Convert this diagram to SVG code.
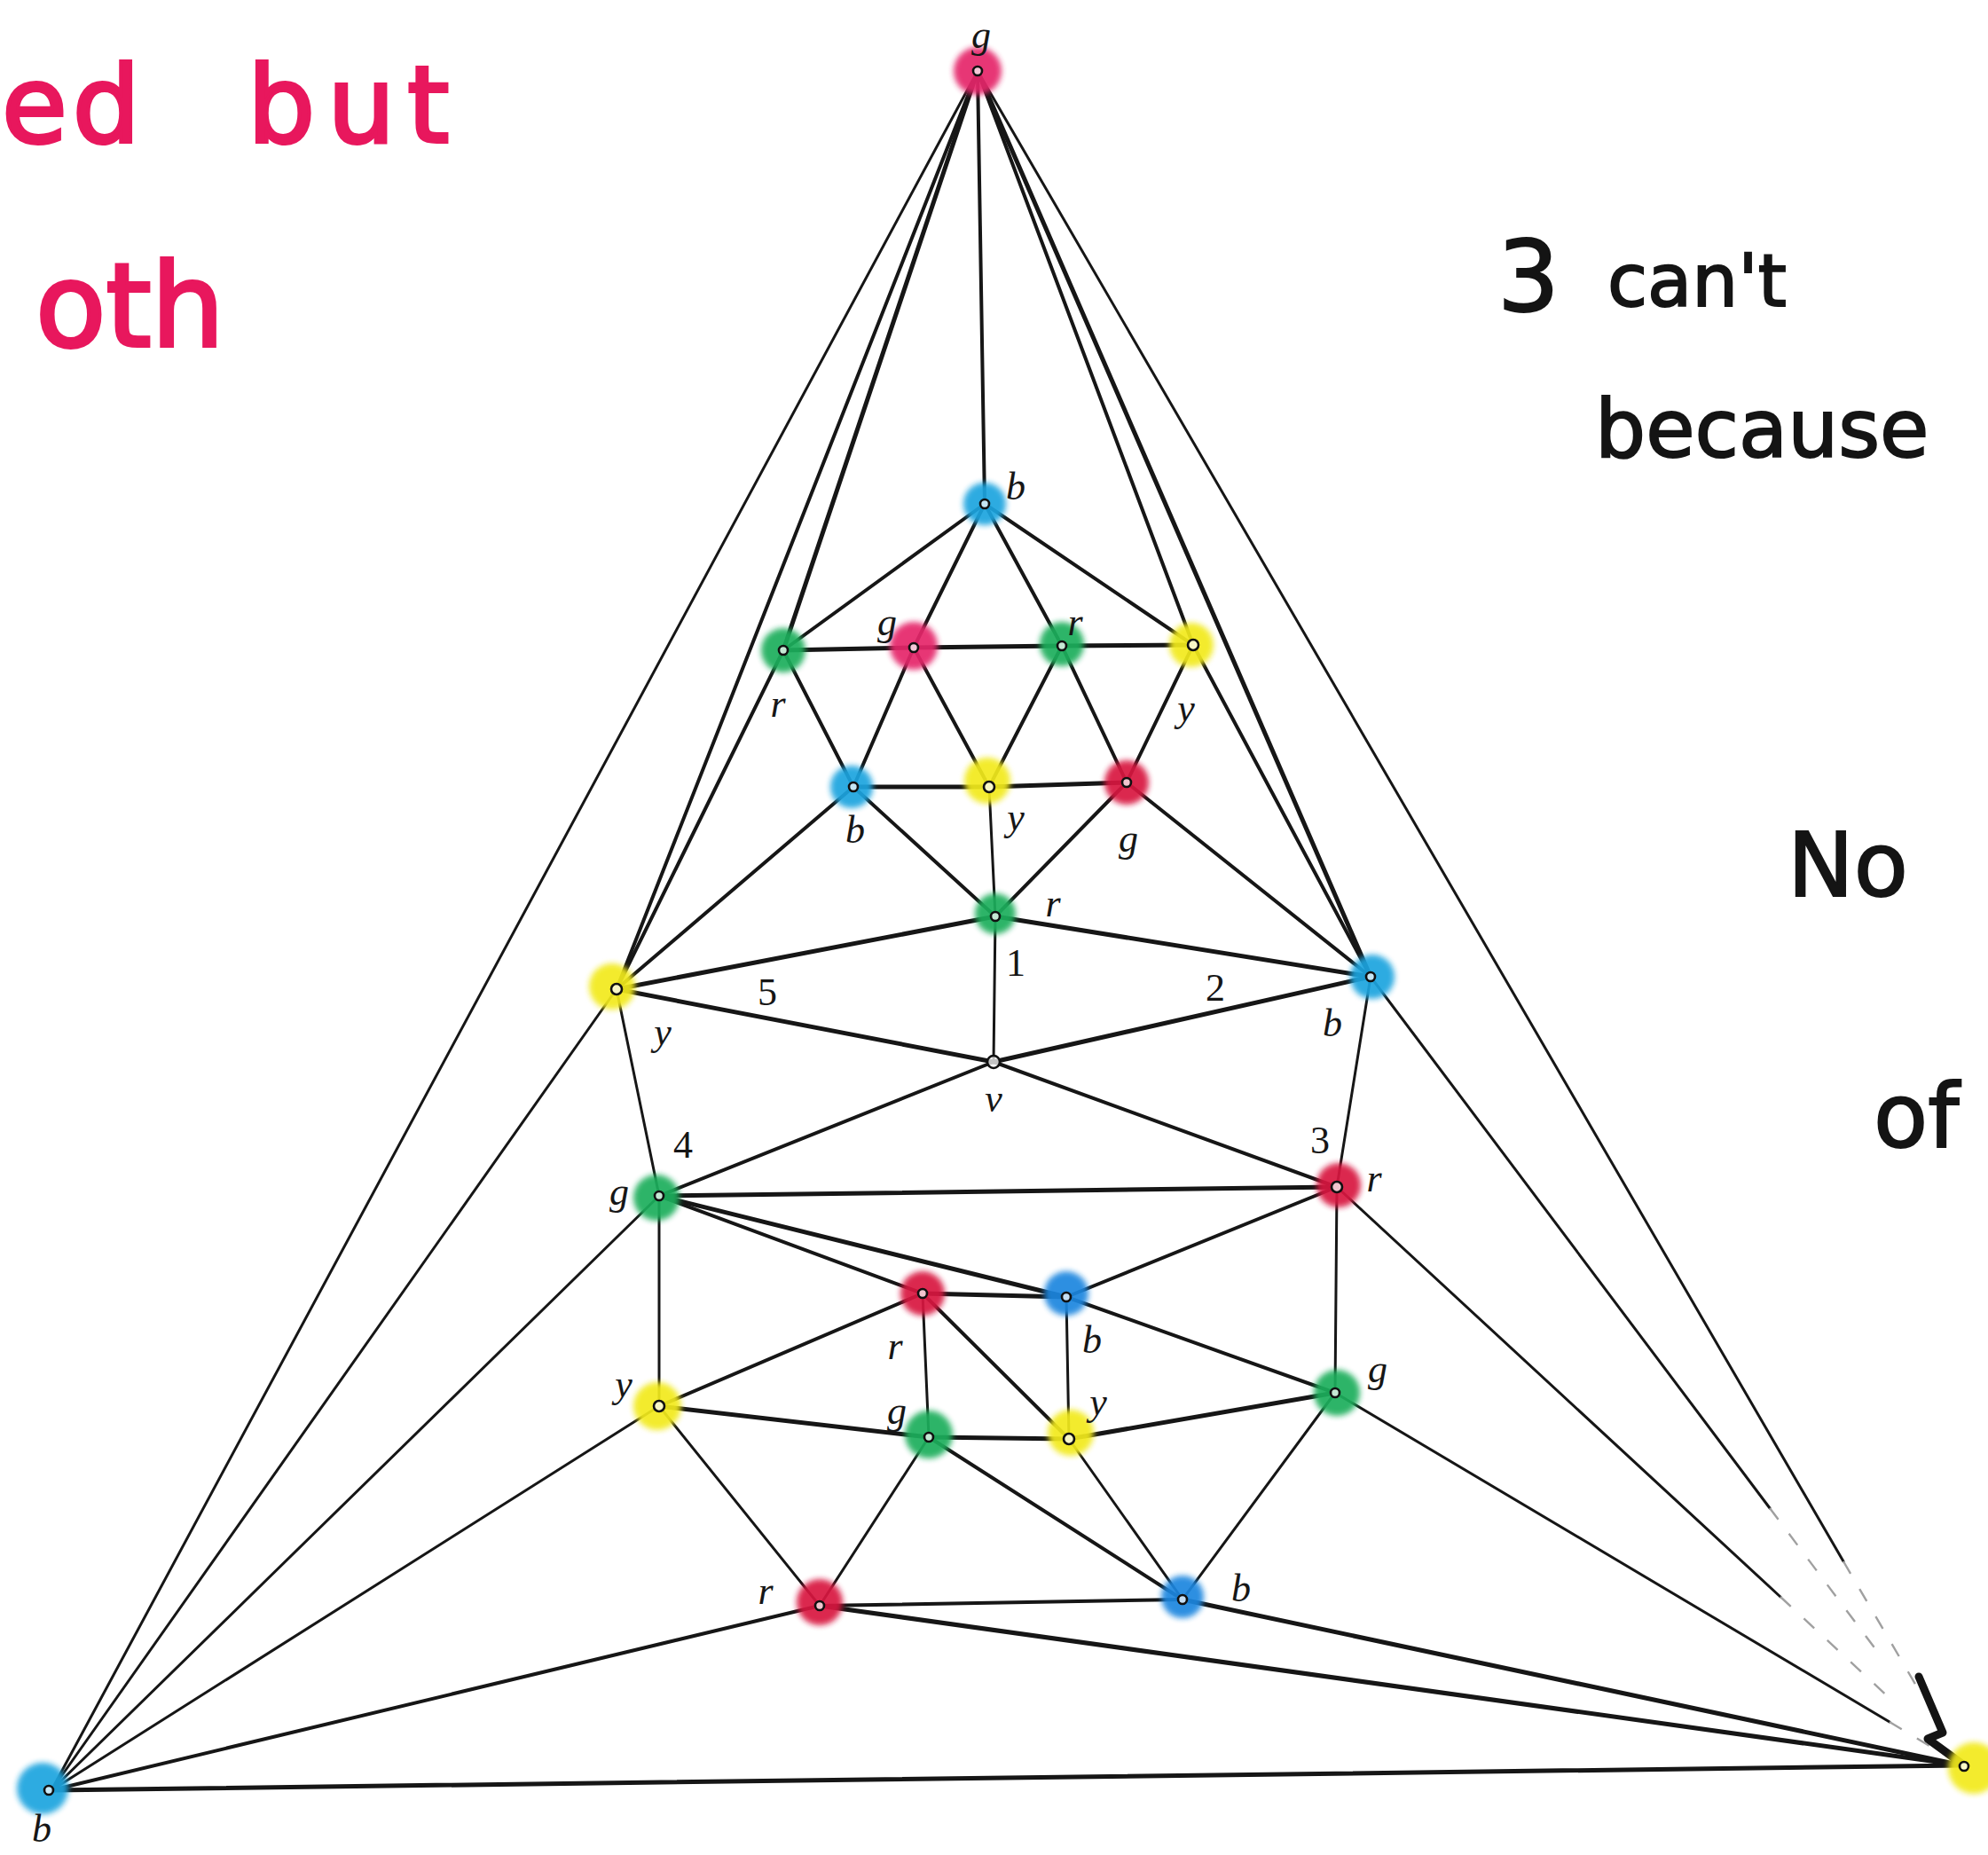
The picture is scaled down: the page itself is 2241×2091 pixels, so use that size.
<svg xmlns="http://www.w3.org/2000/svg" width="2241" height="2091" viewBox="0 0 2241 2091">
<defs>
<style>
.e{stroke:#161616;stroke-width:4;stroke-linecap:round;fill:none}
.t{stroke-width:3}
.k{stroke-width:5}
.f{stroke:#a0a0a0;stroke-width:2.4;stroke-dasharray:16 20;fill:none}
.lbl{font-family:"Liberation Serif",serif;font-style:italic;font-size:44px;fill:#161616;text-anchor:middle}
.num{font-family:"Liberation Serif",serif;font-size:44px;fill:#161616;text-anchor:middle}
.hp{font-family:"DejaVu Sans",sans-serif;fill:#e8175d;stroke:#e8175d;stroke-width:4}
.hk{font-family:"DejaVu Sans",sans-serif;fill:#141414;stroke:#141414;stroke-width:2}
.blob{filter:url(#soft);opacity:0.92}
.dot{fill:#ffffff;fill-opacity:0.75;stroke:#111;stroke-width:2.6}
.pk{fill:#e5276b}.gr{fill:#1fae5c}.ye{fill:#f2ea1a}.bl{fill:#1fa4df}.rd{fill:#d8183f}.db{fill:#1b86df}
</style>
<filter id="soft" x="-50%" y="-50%" width="200%" height="200%"><feGaussianBlur stdDeviation="3"/></filter>
</defs>
<rect width="2241" height="2091" fill="#ffffff"/>

<g id="notes">
<text class="hp" font-size="120"><tspan x="2" y="160" letter-spacing="6">ed</tspan><tspan x="279" y="160" letter-spacing="14">but</tspan></text>
<text class="hp" font-size="130" x="40" y="390">oth</text>
<text class="hk" font-size="110" x="1688" y="350">3</text>
<text class="hk" font-size="82" x="1812" y="345">can't</text>
<text class="hk" font-size="90" x="1798" y="515">because</text>
<text class="hk" font-size="100" x="2015" y="1010">No</text>
<text class="hk" font-size="100" x="2112" y="1293">of</text>
</g>

<g id="edges">
<line class="e" x1="1102" y1="80" x2="1110" y2="568"/>
<line class="e k" x1="1102" y1="80" x2="883" y2="733"/>
<line class="e" x1="1102" y1="80" x2="695" y2="1115"/>
<line class="e t" x1="1102" y1="80" x2="58" y2="2018"/>
<line class="e" x1="1102" y1="80" x2="1345" y2="727"/>
<line class="e k" x1="1102" y1="80" x2="1545" y2="1101"/>
<line class="e t" x1="1102" y1="80" x2="2078" y2="1760"/>
<line class="f" x1="2078" y1="1760" x2="2160" y2="1900"/>
<line class="e t" x1="58" y1="2018" x2="695" y2="1115"/>
<line class="e" x1="695" y1="1115" x2="883" y2="733"/>
<line class="e" x1="883" y1="733" x2="1110" y2="568"/>
<line class="e" x1="1110" y1="568" x2="1345" y2="727"/>
<line class="e" x1="1345" y1="727" x2="1545" y2="1101"/>
<line class="e t" x1="1545" y1="1101" x2="1995" y2="1700"/>
<line class="f" x1="1995" y1="1700" x2="2115" y2="1860"/>
<line class="e k" x1="58" y1="2018" x2="2212" y2="1990"/>
<line class="e" x1="1110" y1="568" x2="1030" y2="730"/>
<line class="e" x1="1110" y1="568" x2="1197" y2="728"/>
<line class="e k" x1="883" y1="733" x2="1030" y2="730"/>
<line class="e k" x1="1030" y1="730" x2="1197" y2="728"/>
<line class="e k" x1="1197" y1="728" x2="1345" y2="727"/>
<line class="e" x1="883" y1="733" x2="962" y2="887"/>
<line class="e" x1="1030" y1="730" x2="962" y2="887"/>
<line class="e" x1="1030" y1="730" x2="1115" y2="887"/>
<line class="e" x1="1197" y1="728" x2="1115" y2="887"/>
<line class="e" x1="1197" y1="728" x2="1270" y2="882"/>
<line class="e" x1="1345" y1="727" x2="1270" y2="882"/>
<line class="e k" x1="962" y1="887" x2="1115" y2="887"/>
<line class="e k" x1="1115" y1="887" x2="1270" y2="882"/>
<line class="e" x1="962" y1="887" x2="695" y2="1115"/>
<line class="e" x1="962" y1="887" x2="1122" y2="1033"/>
<line class="e t" x1="1115" y1="887" x2="1122" y2="1033"/>
<line class="e" x1="1270" y1="882" x2="1122" y2="1033"/>
<line class="e" x1="1270" y1="882" x2="1545" y2="1101"/>
<line class="e k" x1="695" y1="1115" x2="1122" y2="1033"/>
<line class="e k" x1="1122" y1="1033" x2="1545" y2="1101"/>
<line class="e t" x1="1120" y1="1197" x2="1122" y2="1033"/>
<line class="e k" x1="1120" y1="1197" x2="1545" y2="1101"/>
<line class="e" x1="1120" y1="1197" x2="1507" y2="1338"/>
<line class="e" x1="1120" y1="1197" x2="743" y2="1348"/>
<line class="e k" x1="1120" y1="1197" x2="695" y2="1115"/>
<line class="e t" x1="1545" y1="1101" x2="1507" y2="1338"/>
<line class="e k" x1="1507" y1="1338" x2="743" y2="1348"/>
<line class="e t" x1="743" y1="1348" x2="695" y2="1115"/>
<line class="e" x1="743" y1="1348" x2="1040" y2="1458"/>
<line class="e k" x1="743" y1="1348" x2="1202" y2="1462"/>
<line class="e" x1="1507" y1="1338" x2="1202" y2="1462"/>
<line class="e k" x1="1040" y1="1458" x2="1202" y2="1462"/>
<line class="e t" x1="743" y1="1348" x2="743" y2="1585"/>
<line class="e" x1="743" y1="1585" x2="1040" y2="1458"/>
<line class="e t" x1="1040" y1="1458" x2="1047" y2="1620"/>
<line class="e" x1="1040" y1="1458" x2="1205" y2="1622"/>
<line class="e t" x1="1202" y1="1462" x2="1205" y2="1622"/>
<line class="e" x1="1202" y1="1462" x2="1505" y2="1570"/>
<line class="e t" x1="1507" y1="1338" x2="1505" y2="1570"/>
<line class="e k" x1="743" y1="1585" x2="1047" y2="1620"/>
<line class="e k" x1="1047" y1="1620" x2="1205" y2="1622"/>
<line class="e k" x1="1205" y1="1622" x2="1505" y2="1570"/>
<line class="e t" x1="743" y1="1585" x2="924" y2="1810"/>
<line class="e t" x1="1047" y1="1620" x2="924" y2="1810"/>
<line class="e" x1="1047" y1="1620" x2="1333" y2="1803"/>
<line class="e t" x1="1205" y1="1622" x2="1333" y2="1803"/>
<line class="e t" x1="1505" y1="1570" x2="1333" y2="1803"/>
<line class="e" x1="924" y1="1810" x2="1333" y2="1803"/>
<line class="e t" x1="58" y1="2018" x2="743" y2="1348"/>
<line class="e t" x1="58" y1="2018" x2="743" y2="1585"/>
<line class="e" x1="58" y1="2018" x2="924" y2="1810"/>
<line class="e t" x1="1507" y1="1338" x2="2007" y2="1800"/>
<line class="f" x1="2007" y1="1800" x2="2131" y2="1915"/>
<line class="e t" x1="1505" y1="1570" x2="2130" y2="1941"/>
<line class="f" x1="2130" y1="1941" x2="2180" y2="1971"/>
<line class="e k" x1="1333" y1="1803" x2="2212" y2="1990"/>
<line class="e k" x1="924" y1="1810" x2="2212" y2="1990"/>
<polyline points="2163,1890 2190,1953 2173,1960 2210,1987" fill="none" stroke="#141414" stroke-width="9" stroke-linejoin="round" stroke-linecap="round"/>
</g>

<g id="node-top-g"><circle class="blob pk" cx="1102" cy="80" r="27"/><circle class="dot" cx="1102" cy="80" r="5"/><text class="lbl" x="1106" y="54">g</text></g>
<g id="node-b1"><circle class="blob bl" cx="1110" cy="568" r="24"/><circle class="dot" cx="1110" cy="568" r="5"/><text class="lbl" x="1145" y="563">b</text></g>
<g id="node-p1"><circle class="blob gr" cx="883" cy="733" r="25"/><circle class="dot" cx="883" cy="733" r="5"/><text class="lbl" x="877" y="808">r</text></g>
<g id="node-p2"><circle class="blob pk" cx="1030" cy="728" r="27"/><circle class="dot" cx="1030" cy="730" r="5"/><text class="lbl" x="1000" y="716">g</text></g>
<g id="node-p3"><circle class="blob gr" cx="1197" cy="726" r="25"/><circle class="dot" cx="1197" cy="728" r="5"/><text class="lbl" x="1212" y="716">r</text></g>
<g id="node-p4"><circle class="blob ye" cx="1343" cy="727" r="25"/><circle class="dot" cx="1345" cy="727" r="6"/><text class="lbl" x="1337" y="813">y</text></g>
<g id="node-q1"><circle class="blob bl" cx="960" cy="887" r="24"/><circle class="dot" cx="962" cy="887" r="5"/><text class="lbl" x="964" y="950">b</text></g>
<g id="node-q2"><circle class="blob ye" cx="1113" cy="880" r="26"/><circle class="dot" cx="1115" cy="887" r="6"/><text class="lbl" x="1145" y="936">y</text></g>
<g id="node-q3"><circle class="blob rd" cx="1270" cy="882" r="25"/><circle class="dot" cx="1270" cy="882" r="5"/><text class="lbl" x="1272" y="960">g</text></g>
<g id="node-1"><circle class="blob gr" cx="1122" cy="1030" r="23"/><circle class="dot" cx="1122" cy="1033" r="5"/><text class="lbl" x="1187" y="1033">r</text><text class="num" x="1145" y="1100">1</text></g>
<g id="node-5"><circle class="blob ye" cx="690" cy="1112" r="26"/><circle class="dot" cx="695" cy="1115" r="6"/><text class="lbl" x="747" y="1178">y</text><text class="num" x="865" y="1133">5</text></g>
<g id="node-2"><circle class="blob bl" cx="1547" cy="1101" r="25"/><circle class="dot" cx="1545" cy="1101" r="5"/><text class="lbl" x="1502" y="1168">b</text><text class="num" x="1370" y="1128">2</text></g>
<g id="node-v"><circle class="dot" cx="1120" cy="1197" r="7" fill-opacity="1" stroke-width="3"/><text class="lbl" x="1120" y="1253">v</text></g>
<g id="node-4"><circle class="blob gr" cx="740" cy="1350" r="26"/><circle class="dot" cx="743" cy="1348" r="5"/><text class="lbl" x="698" y="1358">g</text><text class="num" x="770" y="1305">4</text></g>
<g id="node-3"><circle class="blob rd" cx="1509" cy="1336" r="25"/><circle class="dot" cx="1507" cy="1338" r="6"/><text class="lbl" x="1549" y="1343">r</text><text class="num" x="1488" y="1300">3</text></g>
<g id="node-m1"><circle class="blob rd" cx="1040" cy="1458" r="25"/><circle class="dot" cx="1040" cy="1458" r="5"/><text class="lbl" x="1009" y="1532">r</text></g>
<g id="node-m2"><circle class="blob db" cx="1202" cy="1458" r="25"/><circle class="dot" cx="1202" cy="1462" r="5"/><text class="lbl" x="1231" y="1525">b</text></g>
<g id="node-l1"><circle class="blob ye" cx="741" cy="1585" r="27"/><circle class="dot" cx="743" cy="1585" r="6"/><text class="lbl" x="703" y="1575">y</text></g>
<g id="node-l2"><circle class="blob gr" cx="1047" cy="1617" r="27"/><circle class="dot" cx="1047" cy="1620" r="5"/><text class="lbl" x="1011" y="1605">g</text></g>
<g id="node-l3"><circle class="blob ye" cx="1207" cy="1615" r="26"/><circle class="dot" cx="1205" cy="1622" r="6"/><text class="lbl" x="1238" y="1595">y</text></g>
<g id="node-l4"><circle class="blob gr" cx="1507" cy="1570" r="26"/><circle class="dot" cx="1505" cy="1570" r="5"/><text class="lbl" x="1553" y="1558">g</text></g>
<g id="node-k1"><circle class="blob rd" cx="924" cy="1806" r="26"/><circle class="dot" cx="924" cy="1810" r="5"/><text class="lbl" x="863" y="1808">r</text></g>
<g id="node-k2"><circle class="blob db" cx="1333" cy="1800" r="24"/><circle class="dot" cx="1333" cy="1803" r="5"/><text class="lbl" x="1399" y="1805">b</text></g>
<g id="node-bl"><circle class="blob bl" cx="48" cy="2016" r="29"/><circle class="dot" cx="55" cy="2018" r="5"/><text class="lbl" x="47" y="2076">b</text></g>
<g id="node-br"><circle class="blob ye" cx="2225" cy="1993" r="29"/><circle class="dot" cx="2214" cy="1991" r="5"/></g>
</svg>
